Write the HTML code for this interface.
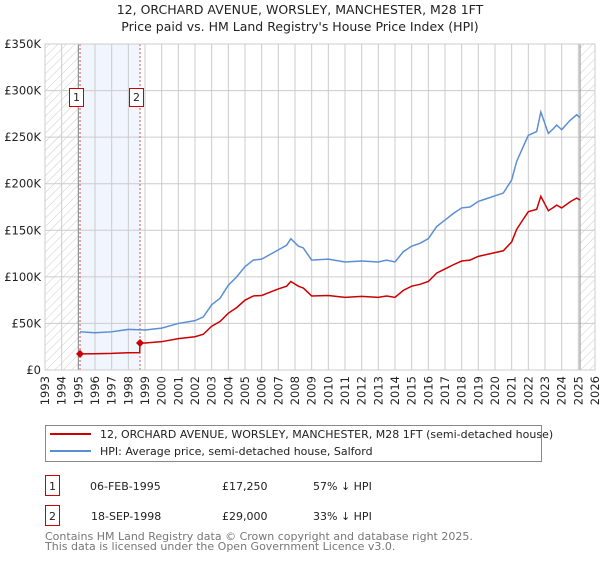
<!DOCTYPE html>
<html><head><meta charset="utf-8"><style>
body{margin:0;background:#fff;font-family:"Liberation Sans","DejaVu Sans",sans-serif}
svg text{font-family:"DejaVu Sans","Liberation Sans",sans-serif}
</style></head><body>
<svg id="c" width="600" height="560" xmlns="http://www.w3.org/2000/svg">
<defs><pattern id="h" width="6" height="6" patternUnits="userSpaceOnUse" patternTransform="rotate(45)"><line x1="0" y1="0" x2="0" y2="6" stroke="#ccc" stroke-width="1"/></pattern></defs>
<text x="300" y="14" text-anchor="middle" font-size="12.5" fill="#222">12, ORCHARD AVENUE, WORSLEY, MANCHESTER, M28 1FT</text>
<text x="300" y="31" text-anchor="middle" font-size="12.5" fill="#222">Price paid vs. HM Land Registry's House Price Index (HPI)</text>
<g id="plot"></g>
<g>
<rect x="45.5" y="425.5" width="496" height="36" fill="#fff" stroke="#888"/>
<line x1="50" y1="434" x2="91" y2="434" stroke="#cc0000" stroke-width="2"/>
<text x="100" y="438" font-size="11" fill="#222">12, ORCHARD AVENUE, WORSLEY, MANCHESTER, M28 1FT (semi-detached house)</text>
<line x1="50" y1="451" x2="91" y2="451" stroke="#5b8fd4" stroke-width="2"/>
<text x="100" y="455" font-size="11" fill="#222">HPI: Average price, semi-detached house, Salford</text>
</g>
<g font-size="11" fill="#222">
<rect x="45.5" y="475.5" width="14" height="20" fill="#fff" stroke="#cc0000"/><text x="52.5" y="490" text-anchor="middle">1</text>
<text x="90" y="490">06-FEB-1995</text><text x="222" y="490">£17,250</text><text x="313" y="490">57% ↓ HPI</text>
<rect x="45.5" y="505.5" width="14" height="20" fill="#fff" stroke="#cc0000"/><text x="52.5" y="520" text-anchor="middle">2</text>
<text x="91" y="520">18-SEP-1998</text><text x="222" y="520">£29,000</text><text x="313" y="520">33% ↓ HPI</text>
</g>
<text x="45" y="540" font-size="11" fill="#777">Contains HM Land Registry data © Crown copyright and database right 2025.</text>
<text x="45" y="550" font-size="11" fill="#777">This data is licensed under the Open Government Licence v3.0.</text>
</svg>
<script>
const hpiYears=[1995.1,1996,1997,1998,1999,2000,2001,2002,2002.5,2003,2003.5,2004,2004.5,2005,2005.5,2006,2006.5,2007,2007.5,2007.75,2008.2,2008.5,2009,2010,2011,2012,2013,2013.5,2014,2014.5,2015,2015.5,2016,2016.5,2017,2017.5,2018,2018.5,2019,2019.5,2020,2020.5,2021,2021.3,2021.7,2022,2022.5,2022.75,2023.2,2023.5,2023.7,2024,2024.5,2024.9,2025.1];
const hpiValues=[41,40,41,43.6,43,45,50,53,57,70,77,91,100,111,118,119,124,129,134,141,133,131,118,119,116,117,116,118,116,127,133,136,141,154,161,168,174,175,181,184,187,190,204,224,240,252,256,277,254,259,263,258,268,274,271];
const redYears=[1995.1,1996,1997,1998,1998.68,1998.7,1999,2000,2001,2002,2002.5,2003,2003.5,2004,2004.5,2005,2005.5,2006,2006.5,2007,2007.5,2007.75,2008.2,2008.5,2009,2010,2011,2012,2013,2013.5,2014,2014.5,2015,2015.5,2016,2016.5,2017,2017.5,2018,2018.5,2019,2019.5,2020,2020.5,2021,2021.3,2021.7,2022,2022.5,2022.75,2023.2,2023.5,2023.7,2024,2024.5,2024.9,2025.1];
const redValues=[17.25,17.5,17.8,18.5,18.6,29,29,30.4,33.7,35.7,38.4,47,52,61,67,75,79.5,80,83.5,87,90,95,90,88,79.5,80,78,79,78,79.5,78,85.5,90,92,95,104,108.5,113,117,118,122,124,126,128,137.5,151,162,170,172.5,186.5,171,174.5,177,174,180.5,184.5,182.5];
const yTicks=[0,50,100,150,200,250,300,350];
const yTickLabels=["£0","£50K","£100K","£150K","£200K","£250K","£300K","£350K"];
const xTicks=[];for(let y=1993;y<=2026;y++)xTicks.push(y);
const sales=[{t:1995.1,v:17.25,n:"1"},{t:1998.7,v:29,n:"2"}];
const X0=45,X1=595,Y0=370,Y1=44;
const xs=t=>X0+(t-1993)/33*(X1-X0);
const ys=v=>Y0-v/350*(Y0-Y1);
const NS="http://www.w3.org/2000/svg";
const g=document.getElementById('plot');
function mk(tag,attrs,parent){const e=document.createElementNS(NS,tag);for(const k in attrs)e.setAttribute(k,attrs[k]);(parent||g).appendChild(e);return e;}
mk('rect',{x:X0,y:Y1,width:xs(1995)-X0,height:Y0-Y1,fill:'url(#h)'});
mk('rect',{x:xs(2025.1),y:Y1,width:X1-xs(2025.1),height:Y0-Y1,fill:'url(#h)'});
const band=mk('rect',{x:xs(sales[0].t),y:Y1,width:xs(sales[1].t)-xs(sales[0].t),height:Y0-Y1,fill:'#eef3fc',opacity:0.8});


xTicks.forEach(t=>{
 mk('line',{x1:xs(t),x2:xs(t),y1:Y1,y2:Y0,stroke:'#ccc','stroke-width':1});
 const tx=mk('text',{x:0,y:0,'font-size':'11.5',fill:'#222','text-anchor':'end',transform:`translate(${xs(t)+4},${Y0+6}) rotate(-90)`});
 tx.textContent=t;
 
 
});
yTicks.forEach((v,i)=>{
 mk('line',{x1:X0,x2:X1,y1:ys(v),y2:ys(v),stroke:'#ccc','stroke-width':1});
 const tx=mk('text',{x:X0-4,y:ys(v)+4,'font-size':'11.5',fill:'#222','text-anchor':'end'});
 tx.textContent=yTickLabels[i];
 
 
});
mk('line',{x1:xs(1995),x2:xs(1995),y1:Y1,y2:Y0,stroke:'#888'});
mk('line',{x1:xs(2025.1),x2:xs(2025.1),y1:Y1,y2:Y0,stroke:'#888'});
sales.forEach(s=>mk('line',{x1:xs(s.t),x2:xs(s.t),y1:Y1,y2:Y0,stroke:'#e05050','stroke-dasharray':'2,2'}));
const hp=mk('polyline',{points:hpiYears.map((t,i)=>xs(t)+','+ys(hpiValues[i])).join(' '),fill:'none',stroke:'#5b8fd4','stroke-width':1.5});


const rp=mk('polyline',{points:redYears.map((t,i)=>xs(t)+','+ys(redValues[i])).join(' '),fill:'none',stroke:'#cc0000','stroke-width':1.5});


sales.forEach(s=>{
 const d=mk('path',{d:`M${xs(s.t)-4},${ys(s.v)}l4,-4l4,4l-4,4z`,fill:'#cc0000'});
 
 
 const bx=xs(s.t)-7-3;
 mk('rect',{x:bx-0.5,y:88.5,width:14,height:18,fill:'#fff',stroke:'#cc0000'});
 const tx=mk('text',{x:bx+6.5,y:101,'font-size':'11',fill:'#222','text-anchor':'middle'});
 tx.textContent=s.n;
 
 
});
mk('rect',{x:X0,y:Y1,width:X1-X0,height:Y0-Y1,fill:'none',stroke:'#ccc'});
</script>
</body></html>
